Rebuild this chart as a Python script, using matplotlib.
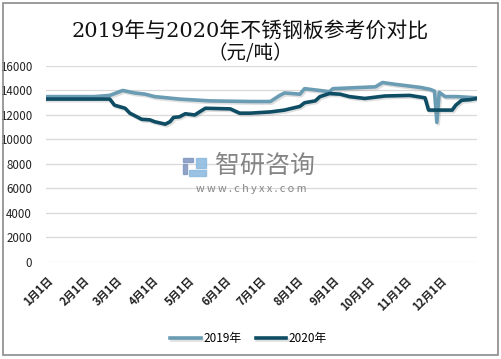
import matplotlib
matplotlib.use("Agg")
import matplotlib.pyplot as plt
import matplotlib.patheffects as pe
from matplotlib.patches import Rectangle

plt.rcParams['font.family'] = ['Noto Sans CJK SC', 'DejaVu Sans']

# day of year -> price (yuan/ton)
days_2019 = [0, 41, 54, 65, 75, 84, 92, 113, 139, 173, 190, 198, 202, 215, 219, 232, 240,
             243, 279, 285, 296, 317, 325, 329, 331, 333, 338, 348, 365]
price_2019 = [13500, 13500, 13600, 14000, 13800, 13700, 13500, 13300, 13150, 13100, 13100,
              13600, 13800, 13700, 14150, 14000, 13900, 14150, 14300, 14650, 14500, 14250,
              14100, 13950, 11400, 13850, 13500, 13500, 13400]

days_2020 = [0, 54, 58, 67, 71, 77, 81, 88, 92, 101, 105, 108, 113, 118, 126, 130, 135, 156,
             164, 173, 190, 202, 215, 219, 228, 232, 240, 249, 257, 270, 287, 308, 321, 324,
             344, 347, 352, 359, 365]
price_2020 = [13300, 13300, 12800, 12550, 12150, 11850, 11650, 11600, 11450, 11250, 11450,
              11800, 11850, 12100, 12000, 12250, 12550, 12500, 12150, 12150, 12250, 12400,
              12700, 13000, 13150, 13500, 13750, 13700, 13500, 13350, 13550, 13600, 13400,
              12400, 12400, 12800, 13200, 13250, 13350]

month_days = [0, 31, 59, 90, 120, 151, 181, 212, 243, 273, 304, 334]
month_labels = [f"{m}月1日" for m in range(1, 13)]

fig = plt.figure(figsize=(5.01, 3.59), dpi=100)
ax = fig.add_axes([0.0918, 0.2702, 0.8603, 0.546])

shadow = [pe.SimpleLineShadow(offset=(1, -1.2), alpha=0.25, shadow_color='gray'), pe.Normal()]
ax.plot(days_2019, price_2019, color='#6a9cb3', lw=2.6, label='2019年', path_effects=shadow,
        solid_joinstyle='round')
ax.plot(days_2020, price_2020, color='#0e4d64', lw=2.6, label='2020年', path_effects=shadow,
        solid_joinstyle='round')

ax.set_xlim(0, 365)
ax.set_ylim(0, 16000)
ax.set_yticks(range(0, 16001, 2000))
ax.tick_params(axis='y', length=0, pad=10, labelsize=8.3, labelcolor='#222222')
ax.grid(axis='y', color='#d9d9d9', lw=0.9)
ax.set_axisbelow(True)
for s in ax.spines.values():
    s.set_visible(False)

ax.set_xticks(month_days)
ax.set_xticklabels(month_labels, rotation=45, ha='right', va='top', rotation_mode='anchor',
                   fontsize=8, fontweight='bold', color='#222222')
ax.tick_params(axis='x', length=0, pad=9)

ax.legend(loc='upper center', bbox_to_anchor=(0.47, -0.305), bbox_transform=ax.transAxes,
          ncol=2, frameon=False, fontsize=8.5, handlelength=2.6, columnspacing=1.2,
          handletextpad=0.2)

fig.text(0.5, 0.915, "2019年与2020年不锈钢板参考价对比", ha='center', va='center', fontsize=15,
         family=['DejaVu Serif', 'Noto Sans CJK SC'], color='#111111')
fig.text(0.5, 0.85, "（元/吨）", ha='center', va='center', fontsize=14,
         family=['Noto Sans CJK SC', 'DejaVu Sans'], color='#111111')

# watermark
for (x0, y0, w, h, c) in [(183, 158, 10, 4, '#7f95c0'), (183, 164, 4, 10, '#7f95c0'),
                          (196, 158, 10, 10, '#8ab8de'), (189, 170, 17, 6, '#8ab8de')]:
    fig.patches.append(Rectangle((x0 / 501, 1 - (y0 + h) / 359), w / 501, h / 359,
                                 transform=fig.transFigure, color=c, alpha=0.85))
fig.text(265 / 501, 1 - 166 / 359, "智研咨询", ha='center', va='center', fontsize=18,
         color='#858585')
fig.text(251 / 501, 1 - 189 / 359, "w w w . c h y x x . c o m", ha='center', va='center',
         fontsize=7.8, color='#858585')

fig.patches.append(Rectangle((3 / 501, 4 / 359), 495 / 501, 352 / 359, transform=fig.transFigure,
                             fill=False, edgecolor='#8a8a8a', lw=1.2))

fig.savefig("out.png", dpi=100)
